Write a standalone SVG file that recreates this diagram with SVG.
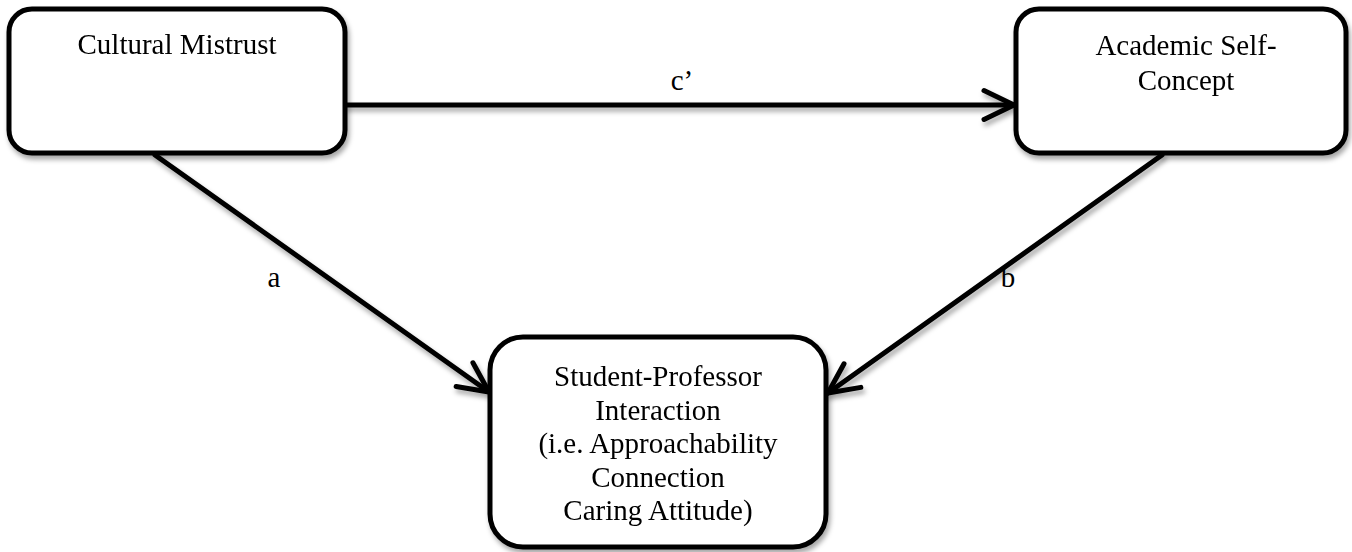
<svg xmlns="http://www.w3.org/2000/svg" width="1352" height="552" viewBox="0 0 1352 552">
  <style>
    .box { fill: #ffffff; stroke: #000000; stroke-width: 5; }
    .edge { fill: none; stroke: #000000; stroke-width: 5; stroke-linecap: round; }
    .t { font-family: "Liberation Serif", "Times New Roman", serif; font-size: 29px; fill: #000000; text-anchor: middle; }
  </style>
  <defs>
    <filter id="shadow" x="-10%" y="-10%" width="130%" height="130%">
      <feDropShadow dx="2" dy="4" stdDeviation="2.5" flood-color="#000000" flood-opacity="0.35"/>
    </filter>
    <marker id="arrow" markerUnits="userSpaceOnUse" markerWidth="40" markerHeight="40" viewBox="-34 -20 40 40" refX="0" refY="0" orient="auto">
      <path d="M -30 -14.5 L 0 0 L -30 14.5" fill="none" stroke="#000000" stroke-width="5" stroke-linecap="round" stroke-linejoin="round"/>
    </marker>
  </defs>
  <rect width="1352" height="552" fill="#ffffff"/>

  <g id="connectors" filter="url(#shadow)">
    <line id="edge-c" class="edge" x1="345" y1="105" x2="1014" y2="105" marker-end="url(#arrow)"/>
    <line id="edge-a" class="edge" x1="155" y1="155" x2="489" y2="392" marker-end="url(#arrow)"/>
    <line id="edge-b" class="edge" x1="1162" y1="155" x2="828" y2="393" marker-end="url(#arrow)"/>
  </g>

  <g id="node-cultural-mistrust" filter="url(#shadow)">
    <rect class="box" x="9" y="9" width="336" height="144" rx="23" ry="23"/>
    <text class="t" x="177" y="54">Cultural Mistrust</text>
  </g>

  <g id="node-academic-self-concept" filter="url(#shadow)">
    <rect class="box" x="1016" y="9" width="330" height="144" rx="23" ry="23"/>
    <text class="t" x="1186" y="55">Academic Self-</text>
    <text class="t" x="1186" y="90">Concept</text>
  </g>

  <g id="node-student-professor" filter="url(#shadow)">
    <rect class="box" x="490" y="337" width="336" height="210" rx="33" ry="33"/>
    <text class="t" x="658" y="386">Student-Professor</text>
    <text class="t" x="658" y="419.5">Interaction</text>
    <text class="t" x="658" y="453">(i.e. Approachability</text>
    <text class="t" x="658" y="486.5">Connection</text>
    <text class="t" x="658" y="520">Caring Attitude)</text>
  </g>

  <g id="labels">
    <text class="t" x="682" y="90">c’</text>
    <text class="t" x="274" y="287">a</text>
    <text class="t" x="1008" y="287">b</text>
  </g>
</svg>
